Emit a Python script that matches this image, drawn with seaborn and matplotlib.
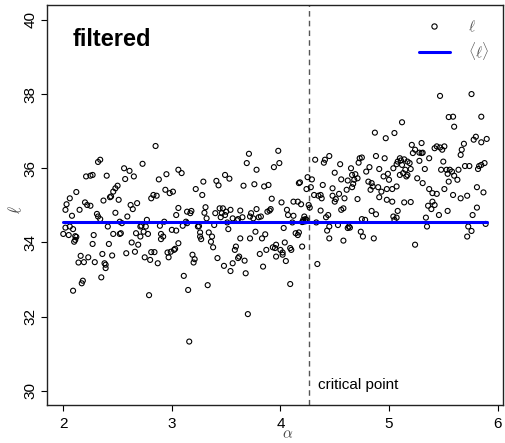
import matplotlib
matplotlib.use("Agg")
import matplotlib.pyplot as plt
import seaborn as sns
import numpy as np
import pandas as pd
from matplotlib.lines import Line2D

# ---- data ----
alpha = [
 2.85,2.34,2.32,2.73,2.56,2.61,2.65,2.21,2.25,2.27,2.40,2.57,2.88,2.95,3.06,2.12,2.06,2.03,2.02,2.50,
 2.48,2.46,2.44,2.43,2.37,2.51,2.20,2.22,2.25,2.15,2.08,2.31,2.32,2.34,2.48,2.59,2.62,2.64,2.68,2.83,
 2.86,2.81,2.94,2.98,3.01,3.04,3.06,2.77,2.93,2.52,2.54,2.02,2.06,2.09,2.00,2.05,2.11,2.12,2.28,2.41,
 2.46,2.52,2.53,2.67,2.71,2.72,2.76,2.74,2.78,2.71,2.90,2.92,2.89,3.00,3.04,
 2.11,2.10,2.27,2.42,2.63,2.69,2.58,2.66,2.36,2.45,2.16,2.23,2.14,2.19,2.29,2.38,2.39,2.39,2.35,2.18,
 2.17,2.09,2.79,2.75,2.80,2.87,2.81,2.84,2.90,3.06,2.96,2.99,3.02,3.03,2.97,
 3.71,3.69,3.98,3.99,3.94,3.78,3.09,3.49,3.53,3.29,3.41,3.43,3.22,3.28,3.66,3.76,3.85,3.89,3.92,4.01,
 4.12,4.16,4.17,3.14,3.17,3.18,3.31,3.30,3.32,3.40,3.44,3.47,3.46,3.45,3.49,3.54,3.50,3.56,3.61,3.63,
 3.65,3.73,3.72,3.75,3.78,3.80,3.82,3.88,3.90,3.91,4.06,4.07,4.12,3.13,3.10,3.14,3.24,3.25,3.39,3.51,
 3.60,3.26,3.26,3.34,3.37,3.52,3.77,3.86,3.63,3.72,3.83,4.03,4.11,4.14,4.16,4.17,
 3.19,3.21,3.20,3.11,3.15,3.16,3.33,3.42,3.38,3.36,3.27,3.48,3.54,3.56,3.59,3.58,3.61,3.62,3.67,3.68,
 3.70,3.81,3.87,3.84,3.93,3.96,3.95,4.00,3.96,4.02,4.04,4.05,4.09,4.10,4.09,
 4.87,4.97,5.05,4.32,4.40,4.41,4.45,4.73,4.75,4.72,4.88,4.96,4.55,4.65,4.69,4.66,4.71,4.68,4.50,4.82,
 4.79,4.91,4.99,4.95,5.04,5.07,4.56,4.62,4.61,4.66,4.67,4.25,4.29,4.24,4.28,4.18,4.39,4.48,4.81,4.84,
 4.83,4.85,4.90,4.93,4.91,4.98,5.00,5.03,5.07,4.31,4.35,4.37,4.38,4.48,4.51,4.50,4.54,4.59,4.71,4.98,
 5.03,5.08,4.19,4.22,4.23,4.21,4.24,4.26,4.27,4.37,4.42,4.44,4.58,4.56,4.63,4.64,4.62,4.75,4.78,4.74,
 4.84,4.88,5.04,4.45,4.53,4.33,4.76,4.86,4.45,4.58,
 4.21,4.20,4.23,4.43,4.20,4.34,4.02,
 5.47,5.76,5.55,5.59,5.60,5.85,5.12,5.80,5.78,5.85,5.90,5.69,5.67,5.66,5.21,5.24,5.22,5.30,5.28,5.30,
 5.31,5.42,5.44,5.49,5.47,5.51,5.37,5.28,5.10,5.11,5.14,5.17,5.08,5.12,5.19,5.20,5.15,5.13,5.17,5.16,
 5.10,5.33,5.26,5.31,5.50,5.48,5.53,5.56,5.58,5.54,5.60,5.63,5.55,5.64,5.70,5.74,5.83,5.82,5.88,5.85,
 5.37,5.40,5.44,5.51,5.59,5.66,5.72,5.81,5.87,5.14,5.20,5.40,5.36,5.39,5.42,5.54,5.46,5.81,5.77,5.05,
 5.07,5.34,5.73,5.76,5.72,5.35,5.89,5.24,
]
ell = [
 36.60,36.23,36.17,36.12,36.00,35.93,35.78,35.78,35.80,35.82,35.80,35.71,35.70,35.84,35.96,35.36,35.19,35.03,34.88,35.53,
 35.46,35.37,35.24,35.22,35.13,35.15,35.08,35.01,34.99,34.88,34.72,34.77,34.70,34.63,34.80,34.70,35.01,34.90,35.06,35.28,
 35.26,35.19,35.42,35.33,35.37,34.74,34.93,34.61,34.56,34.56,34.52,34.40,34.43,34.36,34.23,34.20,34.17,34.15,34.20,34.43,
 34.23,34.23,34.25,34.25,34.43,34.45,34.43,34.29,34.23,34.16,34.23,34.16,34.45,34.34,34.32,
 34.07,34.02,33.96,33.96,34.00,33.94,33.71,33.75,33.69,33.65,33.64,33.60,33.46,33.47,33.47,33.44,33.40,33.31,33.06,32.97,
 32.90,32.70,32.58,33.60,33.53,33.44,33.74,33.74,34.09,33.98,33.73,33.75,33.80,33.83,33.60,
 36.39,36.14,36.47,36.14,36.03,35.96,35.87,35.82,35.72,35.64,35.66,35.54,35.44,35.28,35.53,35.57,35.51,35.55,35.18,35.08,
 35.10,35.10,35.60,34.83,34.79,34.85,34.95,34.80,34.65,34.79,34.92,34.92,34.79,34.68,34.74,34.88,34.83,34.65,34.63,34.86,
 34.68,34.79,34.70,34.65,34.90,34.68,34.70,34.83,34.86,34.90,34.88,34.74,34.72,34.56,34.45,34.52,34.43,34.44,34.47,34.54,
 34.60,34.27,34.16,34.27,34.16,34.36,34.29,34.22,34.11,34.11,34.11,34.39,34.54,34.25,34.20,34.27,
 33.67,33.55,33.46,33.10,32.72,31.33,32.85,33.58,33.87,34.02,34.09,33.37,33.23,33.44,33.89,33.80,33.58,33.62,33.51,33.17,
 32.07,33.69,33.80,33.35,33.87,33.94,33.85,33.80,33.62,33.67,34.00,33.50,33.85,33.80,32.88,
 36.96,36.81,36.95,36.23,36.15,36.23,36.33,36.27,36.29,36.15,36.33,36.27,36.11,36.00,35.84,35.82,35.73,35.69,35.88,36.03,
 35.91,35.98,35.85,35.78,36.00,36.11,35.70,35.67,35.42,35.49,35.58,35.76,35.70,35.44,35.49,35.62,35.55,35.46,35.64,35.60,
 35.42,35.51,35.49,35.37,35.22,35.44,35.69,35.44,35.51,35.28,35.26,35.28,35.19,35.26,35.17,35.10,35.31,35.19,35.17,35.15,
 35.10,34.85,35.03,34.70,34.63,34.61,34.61,35.01,34.94,34.86,34.68,34.74,34.92,34.88,34.43,34.40,34.39,34.63,34.61,34.29,
 34.85,34.76,34.70,34.43,34.47,34.54,34.16,34.11,34.11,34.05,
 34.56,34.55,34.57,34.32,33.89,33.42,33.73,
 37.95,38.00,37.38,37.39,37.12,37.39,37.24,36.85,36.77,36.70,36.79,36.66,36.50,36.36,36.63,36.50,36.41,36.68,36.42,36.41,
 36.42,36.54,36.59,36.50,36.56,36.59,36.27,36.20,36.27,36.21,36.24,36.18,36.18,36.09,36.14,35.98,35.96,35.87,35.82,35.78,
 35.82,35.98,35.73,35.60,36.18,35.96,35.96,35.96,35.91,35.85,35.80,35.69,35.64,35.96,36.06,36.06,36.06,35.98,36.14,36.09,
 35.44,35.33,35.31,35.44,35.28,35.19,35.26,35.49,35.35,35.08,35.09,35.10,34.99,34.90,35.01,34.85,34.74,34.94,34.74,34.61,
 34.67,34.67,34.43,34.31,34.16,34.43,34.50,33.94,
]
mean_ell = 34.54
critical_alpha = 4.26
x_ticks = [2, 3, 4, 5, 6]
y_ticks = [30, 32, 34, 36, 38, 40]

df = pd.DataFrame({"alpha": alpha, "ell": ell})
mean_df = pd.DataFrame({"alpha": [min(alpha), max(alpha)], "ell": [mean_ell, mean_ell]})

sns.set_theme(style="white")
plt.rcParams["font.family"] = ["Liberation Sans", "DejaVu Sans"]
plt.rcParams["mathtext.fontset"] = "cm"
plt.rcParams["text.color"] = "black"
plt.rcParams["xtick.color"] = "black"
plt.rcParams["ytick.color"] = "black"

fig = plt.figure(figsize=(5.05, 4.43), dpi=100)
ax = fig.add_axes([47/505, 1-405/443, 456/505, 400/443])

sns.scatterplot(data=df, x="alpha", y="ell", ax=ax, marker="o", s=13,
                color="black", linewidth=0.8, legend=False, zorder=3)
coll = ax.collections[0]
coll.set_facecolor("none")
coll.set_edgecolor("black")

sns.lineplot(data=mean_df, x="alpha", y="ell", ax=ax, color="blue", lw=2.2, zorder=4)

ax.axvline(critical_alpha, color="#555555", ls=(0, (4, 3)), lw=1.0, zorder=2)
ax.text(critical_alpha + 0.09, 30.16, "critical point", fontsize=11, va="center", ha="left", color="black")
ax.text(2.09, 39.46, "filtered", fontsize=17, fontweight="bold", va="center", ha="left", color="black")

ax.set_xlim(1.85, 6.05)
ax.set_ylim(29.62, 40.4)
ax.set_xticks(x_ticks)
ax.set_yticks(y_ticks)
ax.set_xticklabels([str(t) for t in x_ticks])
ax.set_yticklabels([str(t) for t in y_ticks], rotation=90, va="center")
ax.tick_params(axis="both", direction="out", length=4, width=0.8, colors="black",
               labelsize=11, bottom=True, left=True, pad=3)
ax.tick_params(axis="x", pad=5)
for sp in ax.spines.values():
    sp.set_visible(True)
    sp.set_color("#222222")
    sp.set_linewidth(1.0)

ax.set_xlabel(r"$\alpha$", fontsize=11, color="#444444")
ax.set_ylabel(r"$\ell$", fontsize=12, color="#444444")
ax.xaxis.set_label_coords((288 - 47) / 456, (405 - 434) / 400)
ax.yaxis.set_label_coords((16 - 47) / 456, (405 - 210) / 400)
ax.xaxis.label.set_va("center")
ax.yaxis.label.set_va("center")

handles = [
    Line2D([], [], marker="o", ls="", mfc="none", mec="black", ms=3.8, mew=0.8),
    Line2D([], [], color="blue", lw=2.2),
]
ax.legend(handles, [r"$\ell$", r"$\langle\ell\rangle$"], loc="upper right", frameon=False,
          fontsize=11, labelcolor="#555555", handlelength=2.0, borderaxespad=0.5,
          handletextpad=1.2, labelspacing=0.4)

fig.savefig("out.png", dpi=100)
